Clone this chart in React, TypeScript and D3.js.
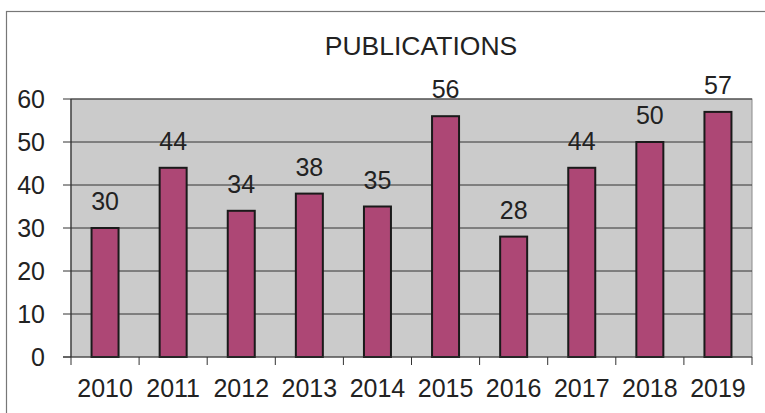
import React from "react";
import * as d3 from "d3";

const years = ["2010", "2011", "2012", "2013", "2014", "2015", "2016", "2017", "2018", "2019"];
const publications = [30, 44, 34, 38, 35, 56, 28, 44, 50, 57];
const yTicks = [0, 10, 20, 30, 40, 50, 60];
const title = "PUBLICATIONS";

export default function App() {
  const W = 765, H = 413;
  const left = 71, right = 752, top = 99, bottom = 357;
  const xb = d3.scaleBand<string>().domain(years).range([left, right]);
  const y = d3.scaleLinear().domain([0, 60]).range([bottom, top]);
  const font = "'Liberation Sans', Arial, sans-serif";
  const bw = 27;
  return (
    <svg width={W} height={H} style={{ position: "absolute", left: 0, top: 0, background: "#fff" }}>
      <rect x={6.5} y={11.5} width={W + 10} height={H + 10} fill="#fff" stroke="#777" strokeWidth={1.2} />
      <text x={421} y={55} textAnchor="middle" fontFamily={font} fontSize={26.5} fill="#222">{title}</text>
      <rect x={left} y={top} width={right - left} height={bottom - top} fill="#cbcbcb" stroke="#8a8a8a" strokeWidth={1} />
      {yTicks.map((t) => (
        <g key={t}>
          {t > 0 && <line x1={left} x2={right} y1={y(t)} y2={y(t)} stroke="#333" strokeWidth={1} />}
          <line x1={left - 8} x2={left} y1={y(t)} y2={y(t)} stroke="#333" strokeWidth={1} />
          <text x={45} y={y(t)} dy="0.36em" textAnchor="end" fontFamily={font} fontSize={25} fill="#222">{t}</text>
        </g>
      ))}
      {publications.map((v, i) => {
        const cx = (xb(years[i]) as number) + xb.bandwidth() / 2;
        return (
          <g key={years[i]}>
            <rect x={cx - bw / 2} y={y(v)} width={bw} height={bottom - y(v)} fill="#ad4775" stroke="#1a1a1a" strokeWidth={2} />
            <text x={cx} y={y(v) - 18} textAnchor="middle" fontFamily={font} fontSize={25} fill="#222">{v}</text>
            <text x={cx} y={397} textAnchor="middle" fontFamily={font} fontSize={25} fill="#222">{years[i]}</text>
          </g>
        );
      })}
      <line x1={left} x2={left} y1={top} y2={bottom} stroke="#333" strokeWidth={1.2} />
      <line x1={left - 8} x2={right} y1={bottom} y2={bottom} stroke="#333" strokeWidth={1.2} />
      {d3.range(years.length + 1).map((k) => {
        const tx = left + k * xb.step();
        return <line key={k} x1={tx} x2={tx} y1={bottom} y2={bottom + 8} stroke="#333" strokeWidth={1} />;
      })}
    </svg>
  );
}
